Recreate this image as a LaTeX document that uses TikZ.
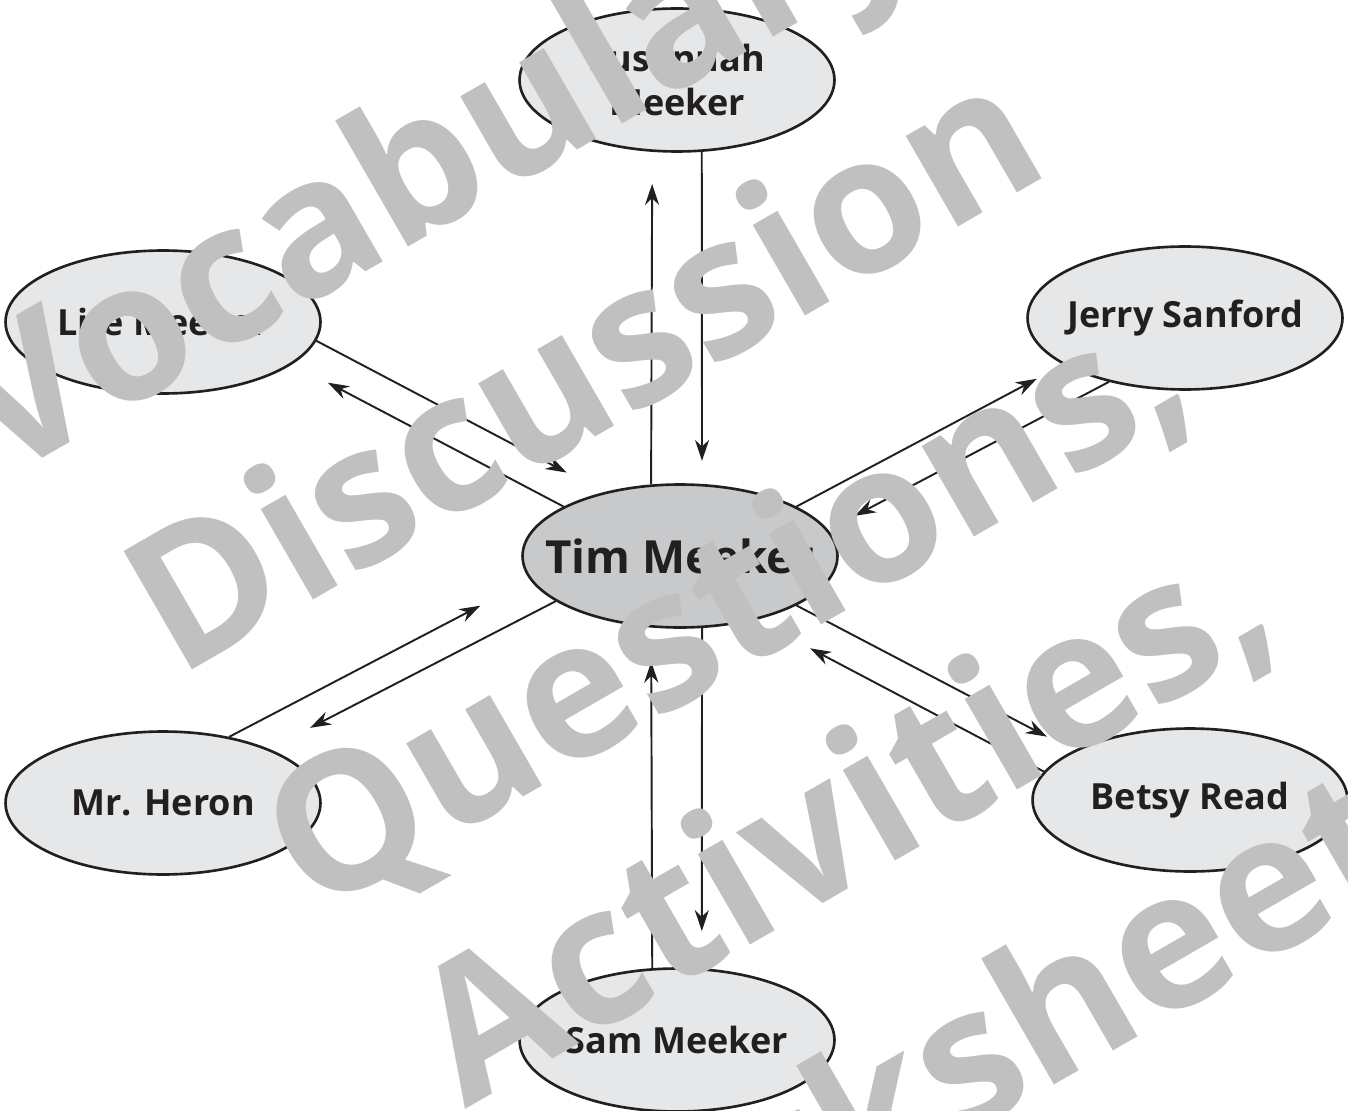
\documentclass[tikz,border=0pt]{standalone}
\usepackage{fontspec}
\setmainfont{Open Sans}
\usetikzlibrary{shapes.geometric,arrows.meta}
\definecolor{inkBK}{HTML}{231F20}
\definecolor{bubbleLT}{HTML}{E6E7E8}
\definecolor{bubbleDK}{HTML}{C8C9CB}
\definecolor{markGR}{HTML}{C0C0C0}

\tikzset{
  person/.style={ellipse,draw=inkBK,line width=1.5pt,fill=bubbleLT,
    minimum width=6.3cm,minimum height=2.86cm,inner xsep=-0.5cm,inner ysep=0pt,
    align=center,text=inkBK,font=\fontsize{20.5}{25.5}\selectfont\bfseries},
  hub/.style={person,fill=bubbleDK,font=\fontsize{26}{30}\selectfont\bfseries},
  link/.style={draw=inkBK,line width=1.1pt,-{Stealth[length=12pt,width=8pt]}},
  stamp/.style={rotate=30,anchor=base,inner sep=0pt,text=markGR,
    font=\fontsize{109}{109}\selectfont\bfseries}
}

\begin{document}
\begin{tikzpicture}[x=0.02cm,y=-0.02cm]
  \useasboundingbox (0,0) rectangle (1348,1111);

  % the people
  \node[hub] (tim) at (680,556) {Tim Meeker};
  \node[person] (sus) at (677,80) {Susannah\\Meeker};
  \node[person] (life) at (163,322) {Life Meeker};
  \node[person] (jerry) at (1185,318) {Jerry Sanford};
  \node[person] (heron) at (163,803) {Mr. Heron};
  \node[person] (betsy) at (1190,800) {Betsy Read};
  \node[person] (sam) at (677,1040) {Sam Meeker};

  % links, one each way
  \draw[link,shorten >=0.64cm] (tim.112) -- (sus.251);
  \draw[link,shorten >=0.46cm] (sus.289) -- (tim.73);
  \draw[link,shorten >=0.68cm] (sam.109) -- (tim.248);
  \draw[link,shorten >=0.74cm] (tim.287) -- (sam.71);
  \draw[link,shorten >=0.84cm] (life.353) -- (tim.140);
  \draw[link,shorten >=0.8cm] (tim.157) -- (life.342);
  \draw[link,shorten >=1.12cm] (heron.45) -- (tim.189);
  \draw[link,shorten >=0.92cm] (tim.200) -- (heron.27);
  \draw[link,shorten >=0.6cm] (tim.23) -- (jerry.201);
  \draw[link,shorten >=0.6cm] (jerry.220) -- (tim.10);
  \draw[link,shorten >=0.6cm] (tim.337) -- (betsy.157);
  \draw[link,shorten >=1.22cm] (betsy.169) -- (tim.320);

  % watermark
  \foreach \word/\cx/\cy [count=\k] in {{Vocabulary,}/487/202,Discussion/616/425,
      {Questions,}/758/662,{Activities,}/875/873,Worksheets/1011/1110}
    \node[stamp] (mark\k) at (\cx,\cy) {\word};
\end{tikzpicture}
\end{document}
